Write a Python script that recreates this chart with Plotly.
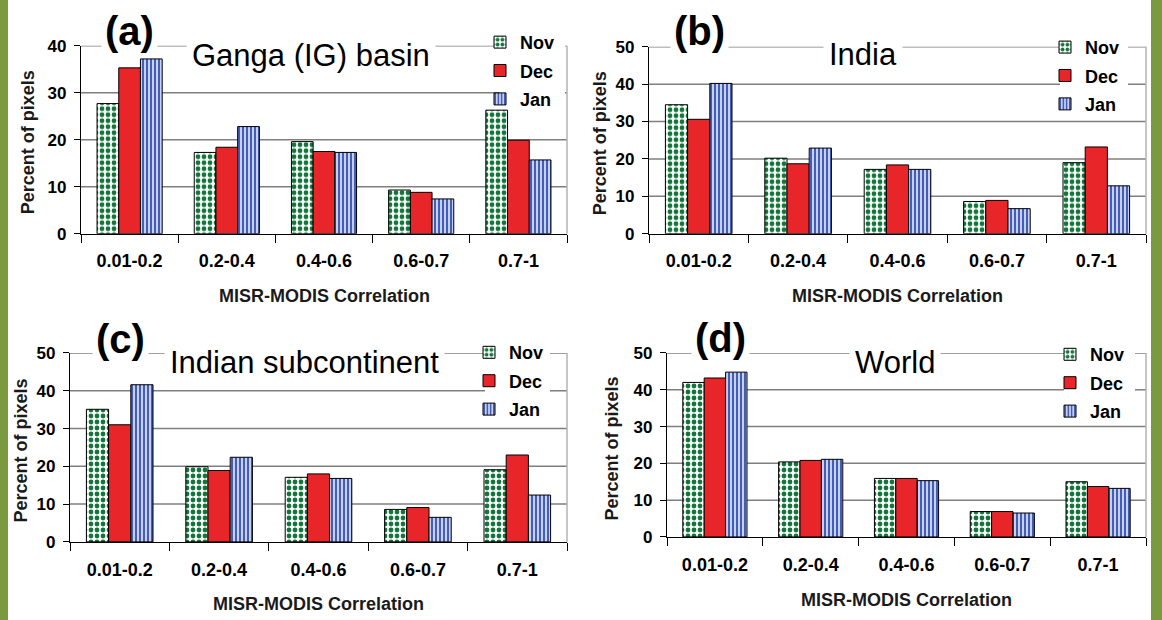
import plotly.graph_objects as go

# ---------------- data ----------------
categories = ["0.01-0.2", "0.2-0.4", "0.4-0.6", "0.6-0.7", "0.7-1"]
months = ["Nov", "Dec", "Jan"]

ganga_nov = [27.7, 17.3, 19.6, 9.3, 26.3]
ganga_dec = [35.3, 18.4, 17.5, 8.8, 19.9]
ganga_jan = [37.2, 22.8, 17.3, 7.4, 15.7]

india_nov = [34.5, 20.2, 17.2, 8.6, 19.0]
india_dec = [30.6, 18.7, 18.4, 8.9, 23.2]
india_jan = [40.2, 22.9, 17.2, 6.7, 12.8]

subc_nov = [35.1, 19.9, 17.1, 8.6, 19.1]
subc_dec = [31.0, 18.9, 18.0, 9.1, 23.0]
subc_jan = [41.6, 22.4, 16.8, 6.5, 12.4]

world_nov = [42.0, 20.4, 15.9, 6.9, 15.0]
world_dec = [43.2, 20.8, 15.9, 6.9, 13.7]
world_jan = [44.8, 21.1, 15.3, 6.5, 13.2]

panel_labels = ["(a)", "(b)", "(c)", "(d)"]
panel_titles = ["Ganga (IG) basin", "India", "Indian subcontinent", "World"]
panel_data = [
    [ganga_nov, ganga_dec, ganga_jan],
    [india_nov, india_dec, india_jan],
    [subc_nov, subc_dec, subc_jan],
    [world_nov, world_dec, world_jan],
]
panel_ymax = [40, 50, 50, 50]
x_title = "MISR-MODIS Correlation"
y_title = "Percent of pixels"

# ---------------- layout geometry (target pixels in the picture) ----------------
W, H = 1162, 620
FONT = "Liberation Sans, Arial, sans-serif"
# the page capture places the figure a few pixels lower and slightly squeezed
OFF_Y, SC_Y = 8.0, 0.975

# plot boxes: left, right, top, bottom
boxes = [
    (81, 567, 45, 234),
    (649, 1146, 46, 234),
    (70, 567, 354, 544),
    (667, 1146, 354, 539),
]
label_pos = [(129, 30), (699, 30), (120, 340), (720, 339)]
title_pos = [(311, 55), (863, 54), (304, 364), (895, 364)]
ytitle_pos = [(28, 142), (600, 143), (21, 452), (612, 450)]
xtitle_pos = [(324, 297), (897, 297), (318, 606), (906, 602)]
legend_pos = [(520, 40), (1085, 45), (509, 352), (1090, 354)]   # text start, first row
legend_gap = [(500, 565, 112), (1060, 1128, 116), (485, 550, 420), (1064, 1135, 420)]


def fx(p):
    return p / W


def fy(p):
    return 1 - ((p - OFF_Y) / SC_Y) / H


styles = {
    "Nov": dict(color="white", line=dict(color="black", width=1),
                pattern=dict(shape=".", fgcolor="#12763a", bgcolor="white",
                             size=6, solidity=0.5, fillmode="replace")),
    "Dec": dict(color="#e8262a", line=dict(color="black", width=1)),
    "Jan": dict(color="#c3cdf0", line=dict(color="black", width=1),
                pattern=dict(shape="|", fgcolor="#3650b0", bgcolor="#c6d0f2",
                             size=4, solidity=0.45, fillmode="replace")),
}

GRID = dict(color="#7f7f7f", width=1.5)

fig = go.Figure()
annotations = []
shapes = []
layout = {}

for i in range(4):
    s = "" if i == 0 else str(i + 1)
    for m, vals in zip(months, panel_data[i]):
        fig.add_trace(go.Bar(
            x=categories, y=vals, name=m,
            xaxis="x" + s, yaxis="y" + s,
            marker=styles[m],
            legend="legend" + s, legendgroup=s + m,
            hoverinfo="x+y+name",
        ))
    l, r, t, b = boxes[i]
    ymax = panel_ymax[i]
    layout["xaxis" + s] = dict(
        domain=[fx(l), fx(r)], anchor="y" + s, type="category",
        showline=True, linecolor="black", linewidth=1.3,
        ticks="outside", tickson="boundaries", ticklen=8, tickcolor="black", tickwidth=1.3,
        showgrid=False, zeroline=False,
        tickfont=dict(family=FONT, size=18, color="black", weight="bold"),
        ticklabelstandoff=11,
        fixedrange=True,
    )
    layout["yaxis" + s] = dict(
        domain=[fy(b), fy(t)], anchor="x" + s,
        range=[0, ymax], dtick=10, tick0=0,
        showline=True, linecolor="black", linewidth=1.3,
        ticks="outside", ticklen=6, tickcolor="black", tickwidth=1.3,
        showgrid=False, zeroline=False,
        tickfont=dict(family=FONT, size=17, color="black", weight="bold"),
        ticklabelstandoff=4,
        fixedrange=True,
    )
    # horizontal gridlines (broken behind the legend, Excel style)
    gx0, gx1, gy = legend_gap[i]
    for v in range(10, ymax + 1, 10):
        py = b - (b - t) * v / ymax
        if py < gy:
            segs = [(0.0, (gx0 - l) / (r - l)), (min(1.0, (gx1 - l) / (r - l)), 1.0)]
        else:
            segs = [(0.0, 1.0)]
        for x0, x1 in segs:
            if x1 - x0 <= 0.003:
                continue
            shapes.append(dict(type="line", xref="x" + s + " domain", yref="y" + s,
                               x0=x0, x1=x1, y0=v, y1=v, line=GRID, layer="below"))
    # right border of plot area
    shapes.append(dict(type="line", xref="x" + s + " domain", yref="y" + s + " domain",
                       x0=1, x1=1, y0=0, y1=1, line=dict(color="#b3b3b3", width=1.5)))
    lx, ly = legend_pos[i]
    layout["legend" + s] = dict(
        x=fx(lx - 40), y=fy(ly - 17), xanchor="left", yanchor="top",
        xref="paper", yref="paper",
        bgcolor="rgba(0,0,0,0)", borderwidth=0, tracegroupgap=2,
        font=dict(family=FONT, size=18, color="black", weight="bold"),
    )
    # panel label
    annotations.append(dict(
        text=panel_labels[i], x=fx(label_pos[i][0]), y=fy(label_pos[i][1]),
        xref="paper", yref="paper", xanchor="center", yanchor="middle",
        showarrow=False, bgcolor="white", borderpad=3,
        font=dict(family=FONT, size=40, color="black", weight="bold"),
    ))
    annotations.append(dict(
        text=panel_titles[i], x=fx(title_pos[i][0]), y=fy(title_pos[i][1]),
        xref="paper", yref="paper", xanchor="center", yanchor="middle",
        showarrow=False, bgcolor="white", borderpad=5,
        font=dict(family=FONT, size=31, color="black"),
    ))
    annotations.append(dict(
        text=y_title, x=fx(ytitle_pos[i][0]), y=fy(ytitle_pos[i][1]),
        xref="paper", yref="paper", xanchor="center", yanchor="middle",
        textangle=-90, showarrow=False,
        font=dict(family=FONT, size=18, color="#1a1a1a", weight="bold"),
    ))
    annotations.append(dict(
        text=x_title, x=fx(xtitle_pos[i][0]), y=fy(xtitle_pos[i][1]),
        xref="paper", yref="paper", xanchor="center", yanchor="middle",
        showarrow=False,
        font=dict(family=FONT, size=18, color="#1a1a1a", weight="bold"),
    ))

# olive green frame (left and right bands)
green = "#7b9a3f"
shapes += [
    dict(type="rect", xref="paper", yref="paper", x0=0, x1=fx(8), y0=-0.05, y1=1.05,
         fillcolor=green, line=dict(width=0), layer="above"),
    dict(type="rect", xref="paper", yref="paper", x0=fx(1151), x1=1, y0=-0.05, y1=1.05,
         fillcolor=green, line=dict(width=0), layer="above"),
]

fig.update_layout(
    width=W, height=H,
    margin=dict(l=0, r=0, t=0, b=0),
    paper_bgcolor="white", plot_bgcolor="white",
    barmode="group", bargap=0.33, bargroupgap=0,
    annotations=annotations, shapes=shapes,
    font=dict(family=FONT, color="black"),
    **layout,
)

page_fix = (
    "document.documentElement.style.margin='0';"
    "document.documentElement.style.padding='0';"
    "document.documentElement.style.overflow='hidden';"
    "document.body.style.margin='0';"
    "document.body.style.padding='0';"
    "document.body.style.overflow='hidden';"
    "var gd=document.getElementById('{plot_id}');"
    "gd.style.position='fixed';gd.style.left='0px';gd.style.top='0px';"
)

fig.write_html(
    "out.html",
    config={"displayModeBar": False},
    post_script=page_fix,
)
